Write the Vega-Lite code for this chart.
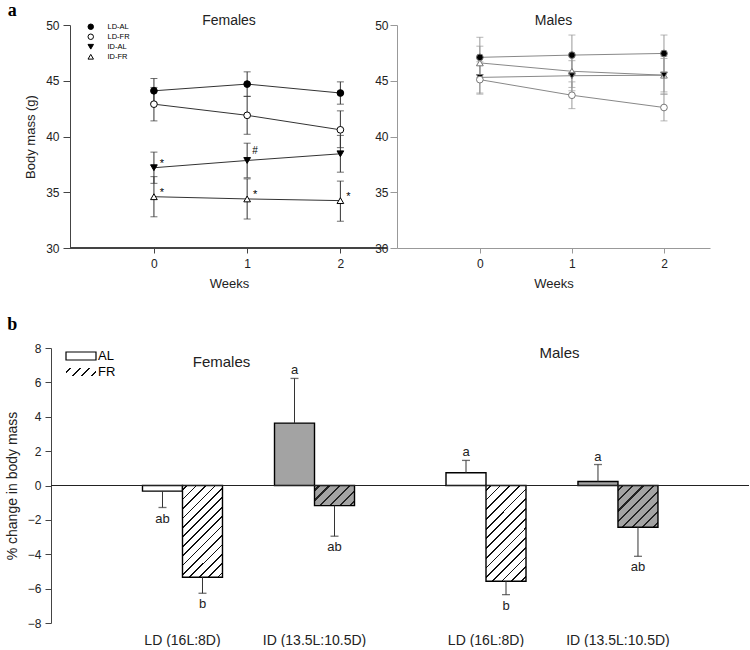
{
  "$schema": "https://vega.github.io/schema/vega-lite/v6.json",
  "padding": {"left": 5, "top": 2, "right": 0, "bottom": 0},
  "config": {
    "font": "Liberation Sans",
    "view": {"stroke": null},
    "axis": {"grid": false, "labelColor": "#222", "titleColor": "#222", "titleFontWeight": "normal", "labelOverlap": false},
    "axisY": {"labelOverlap": false},
    "title": {"fontWeight": "normal", "color": "#222"}
  },
  "datasets": {
    "mass": [
      {"sex": "F", "group": "LD-AL", "week": 0, "mean": 44.1, "lo": 43.0, "hi": 45.2, "note": ""},
      {"sex": "F", "group": "LD-AL", "week": 1, "mean": 44.7, "lo": 43.6, "hi": 45.8, "note": ""},
      {"sex": "F", "group": "LD-AL", "week": 2, "mean": 43.9, "lo": 42.9, "hi": 44.9, "note": ""},
      {"sex": "F", "group": "LD-FR", "week": 0, "mean": 42.9, "lo": 41.4, "hi": 44.4, "note": ""},
      {"sex": "F", "group": "LD-FR", "week": 1, "mean": 41.9, "lo": 40.2, "hi": 43.6, "note": ""},
      {"sex": "F", "group": "LD-FR", "week": 2, "mean": 40.6, "lo": 39.0, "hi": 42.3, "note": ""},
      {"sex": "F", "group": "ID-AL", "week": 0, "mean": 37.2, "lo": 35.8, "hi": 38.6, "note": "*"},
      {"sex": "F", "group": "ID-AL", "week": 1, "mean": 37.85, "lo": 36.3, "hi": 39.4, "note": "#"},
      {"sex": "F", "group": "ID-AL", "week": 2, "mean": 38.45, "lo": 36.8, "hi": 40.1, "note": ""},
      {"sex": "F", "group": "ID-FR", "week": 0, "mean": 34.6, "lo": 32.8, "hi": 36.4, "note": "*"},
      {"sex": "F", "group": "ID-FR", "week": 1, "mean": 34.4, "lo": 32.6, "hi": 36.2, "note": "*"},
      {"sex": "F", "group": "ID-FR", "week": 2, "mean": 34.25, "lo": 32.4, "hi": 36.0, "note": "*"},
      {"sex": "M", "group": "LD-AL", "week": 0, "mean": 47.1, "lo": 45.3, "hi": 48.9, "note": ""},
      {"sex": "M", "group": "LD-AL", "week": 1, "mean": 47.3, "lo": 45.5, "hi": 49.1, "note": ""},
      {"sex": "M", "group": "LD-AL", "week": 2, "mean": 47.45, "lo": 45.8, "hi": 49.1, "note": ""},
      {"sex": "M", "group": "ID-FR", "week": 0, "mean": 46.6, "lo": 45.1, "hi": 48.1, "note": ""},
      {"sex": "M", "group": "ID-FR", "week": 1, "mean": 45.85, "lo": 44.4, "hi": 47.3, "note": ""},
      {"sex": "M", "group": "ID-FR", "week": 2, "mean": 45.5, "lo": 44.0, "hi": 47.0, "note": ""},
      {"sex": "M", "group": "ID-AL", "week": 0, "mean": 45.3, "lo": 43.9, "hi": 46.7, "note": ""},
      {"sex": "M", "group": "ID-AL", "week": 1, "mean": 45.45, "lo": 44.1, "hi": 46.8, "note": ""},
      {"sex": "M", "group": "ID-AL", "week": 2, "mean": 45.5, "lo": 43.8, "hi": 47.2, "note": ""},
      {"sex": "M", "group": "LD-FR", "week": 0, "mean": 45.1, "lo": 43.8, "hi": 46.4, "note": ""},
      {"sex": "M", "group": "LD-FR", "week": 1, "mean": 43.7, "lo": 42.5, "hi": 44.9, "note": ""},
      {"sex": "M", "group": "LD-FR", "week": 2, "mean": 42.6, "lo": 41.4, "hi": 43.8, "note": ""}
    ],
    "bars": [
      {"sex": "F", "photo": "LD (16L:8D)", "diet": "AL", "value": -0.33, "err_end": -1.28, "label": "ab"},
      {"sex": "F", "photo": "LD (16L:8D)", "diet": "FR", "value": -5.34, "err_end": -6.27, "label": "b"},
      {"sex": "F", "photo": "ID (13.5L:10.5D)", "diet": "AL", "value": 3.63, "err_end": 6.23, "label": "a"},
      {"sex": "F", "photo": "ID (13.5L:10.5D)", "diet": "FR", "value": -1.17, "err_end": -2.95, "label": "ab"},
      {"sex": "M", "photo": "LD (16L:8D)", "diet": "AL", "value": 0.74, "err_end": 1.46, "label": "a"},
      {"sex": "M", "photo": "LD (16L:8D)", "diet": "FR", "value": -5.57, "err_end": -6.35, "label": "b"},
      {"sex": "M", "photo": "ID (13.5L:10.5D)", "diet": "AL", "value": 0.23, "err_end": 1.22, "label": "a"},
      {"sex": "M", "photo": "ID (13.5L:10.5D)", "diet": "FR", "value": -2.43, "err_end": -4.12, "label": "ab"}
    ]
  },
  "columns": 1,
  "spacing": 26,
  "resolve": {"scale": {"shape": "independent", "fill": "independent", "stroke": "independent"}, "legend": {"shape": "independent", "fill": "independent", "stroke": "independent"}},
  "concat": [
    {
      "title": {"text": "a", "anchor": "start", "font": "Liberation Serif", "fontWeight": "bold", "fontSize": 18, "color": "black", "dx": -17, "offset": -6},
      "bounds": "flush",
      "spacing": 10,
      "resolve": {"scale": {"shape": "independent", "fill": "independent", "stroke": "independent"}, "legend": {"shape": "independent", "fill": "independent", "stroke": "independent"}},
      "hconcat": [
        {
          "width": 336,
          "height": 223,
          "title": {"text": "Females", "fontSize": 14, "offset": -9, "dx": 10},
          "data": {"name": "mass"},
          "transform": [{"filter": "datum.sex === 'F'"}],
          "encoding": {
            "x": {"field": "week", "type": "quantitative", "scale": {"domain": [-1.104, 2.5], "nice": false, "zero": false},
                  "axis": {"title": "Weeks", "values": [0, 1, 2], "format": "d", "domain": false, "tickSize": 5, "labelPadding": 5, "titlePadding": 8, "labelFontSize": 12, "titleFontSize": 13, "tickColor": "#444", "titleX": 178}}
          },
          "layer": [
            {
              "mark": {"type": "rule", "color": "#444", "strokeWidth": 1},
              "encoding": {"x": {"datum": -0.9, "type": "quantitative"}, "x2": {"datum": 2.5}, "y": {"datum": 30, "type": "quantitative"}}
            },
            {
              "mark": {"type": "errorbar", "ticks": {"size": 7}, "color": "#333", "thickness": 1},
              "encoding": {
                "y": {"field": "lo", "type": "quantitative", "scale": {"domain": [30, 50], "nice": false, "zero": false},
                      "axis": {"title": "Body mass (g)", "offset": -19, "values": [30, 35, 40, 45, 50], "tickSize": 7, "labelPadding": 4, "titlePadding": 8, "labelFontSize": 12, "titleFontSize": 13, "domainColor": "#444", "tickColor": "#444"}},
                "y2": {"field": "hi"},
                "detail": {"field": "group"}
              }
            },
            {
              "mark": {"type": "line", "color": "#333", "strokeWidth": 1},
              "encoding": {"y": {"field": "mean", "type": "quantitative"}, "detail": {"field": "group"}}
            },
            {
              "mark": {"type": "point", "filled": true, "size": 45, "strokeWidth": 1, "opacity": 1},
              "encoding": {
                "y": {"field": "mean", "type": "quantitative"},
                "shape": {"field": "group", "type": "nominal", "scale": {"domain": ["LD-AL", "LD-FR", "ID-AL", "ID-FR"], "range": ["circle", "circle", "triangle-down", "triangle-up"]},
                          "legend": {"title": null, "orient": "none", "legendX": 36, "legendY": -2, "labelFontSize": 7.5, "symbolSize": 30, "rowPadding": 0, "labelOffset": 13, "symbolStrokeWidth": 1, "padding": 0}},
                "fill": {"field": "group", "type": "nominal", "scale": {"domain": ["LD-AL", "LD-FR", "ID-AL", "ID-FR"], "range": ["black", "white", "black", "white"]},
                          "legend": {"title": null, "orient": "none", "legendX": 36, "legendY": -2, "labelFontSize": 7.5, "symbolSize": 30, "rowPadding": 0, "labelOffset": 13, "symbolStrokeWidth": 1, "padding": 0}},
                "stroke": {"field": "group", "type": "nominal", "scale": {"domain": ["LD-AL", "LD-FR", "ID-AL", "ID-FR"], "range": ["black", "black", "black", "black"]},
                          "legend": {"title": null, "orient": "none", "legendX": 36, "legendY": -2, "labelFontSize": 7.5, "symbolSize": 30, "rowPadding": 0, "labelOffset": 13, "symbolStrokeWidth": 1, "padding": 0}}
              }
            },
            {
              "transform": [{"filter": "datum.note === '*'"}],
              "mark": {"type": "text", "dx": 8, "dy": -4, "fontSize": 11, "color": "black"},
              "encoding": {"y": {"field": "mean", "type": "quantitative"}, "text": {"field": "note"}}
            },
            {
              "transform": [{"filter": "datum.note === '#'"}],
              "mark": {"type": "text", "dx": 8, "dy": -9, "fontSize": 10, "color": "black"},
              "encoding": {"y": {"field": "mean", "type": "quantitative"}, "text": {"field": "note"}}
            }
          ]
        },
        {
          "width": 313,
          "height": 223,
          "title": {"text": "Males", "fontSize": 14, "offset": -9},
          "data": {"name": "mass"},
          "transform": [{"filter": "datum.sex === 'M'"}],
          "encoding": {
            "x": {"field": "week", "type": "quantitative", "scale": {"domain": [-0.9, 2.5], "nice": false, "zero": false},
                  "axis": {"title": "Weeks", "values": [0, 1, 2], "format": "d", "tickSize": 5, "labelPadding": 5, "titlePadding": 8, "labelFontSize": 12, "titleFontSize": 13, "domainColor": "#999", "tickColor": "#999"}}
          },
          "layer": [
            {
              "mark": {"type": "errorbar", "ticks": {"size": 7}, "color": "#999", "thickness": 1},
              "encoding": {
                "y": {"field": "lo", "type": "quantitative", "scale": {"domain": [30, 50], "nice": false, "zero": false},
                      "axis": {"title": null, "values": [30, 35, 40, 45, 50], "tickSize": 7, "labelPadding": 2, "labelFontSize": 12, "domainColor": "#999", "tickColor": "#999"}},
                "y2": {"field": "hi"},
                "detail": {"field": "group"}
              }
            },
            {
              "mark": {"type": "line", "color": "#888", "strokeWidth": 1},
              "encoding": {"y": {"field": "mean", "type": "quantitative"}, "detail": {"field": "group"}}
            },
            {
              "mark": {"type": "point", "filled": true, "size": 45, "stroke": "#777", "strokeWidth": 1, "opacity": 1},
              "encoding": {
                "y": {"field": "mean", "type": "quantitative"},
                "shape": {"field": "group", "type": "nominal", "scale": {"domain": ["LD-AL", "LD-FR", "ID-AL", "ID-FR"], "range": ["circle", "circle", "triangle-down", "triangle-up"]}, "legend": null},
                "fill": {"field": "group", "type": "nominal", "scale": {"domain": ["LD-AL", "LD-FR", "ID-AL", "ID-FR"], "range": ["black", "white", "black", "white"]}, "legend": null}
              }
            }
          ]
        }
      ]
    },
    {
      "title": {"text": "b", "anchor": "start", "font": "Liberation Serif", "fontWeight": "bold", "fontSize": 18, "color": "black", "dx": 2, "offset": 8},
      "bounds": "flush",
      "spacing": 0,
      "resolve": {"scale": {"shape": "independent", "fill": "independent"}, "legend": {"shape": "independent", "fill": "independent"}},
      "hconcat": [
        {
          "width": 395,
          "height": 275,
          "title": {"text": "Females", "fontSize": 15, "offset": -28, "dx": -27},
          "data": {"name": "bars"},
          "transform": [{"filter": "datum.sex === 'F'"}],
          "resolve": {"legend": {"shape": "independent", "fill": "independent"}},
          "layer": [
            {
              "mark": {"type": "bar", "stroke": "black", "strokeWidth": 1.4},
              "encoding": {
                "x": {"field": "photo", "type": "nominal", "sort": ["LD (16L:8D)", "ID (13.5L:10.5D)"], "scale": {"paddingInner": 0.394, "paddingOuter": 0.693, "align": 0.5},
                      "axis": {"title": null, "domain": false, "ticks": false, "labelAngle": 0, "labelPadding": 10, "labelFontSize": 14}},
                "xOffset": {"field": "diet", "type": "nominal", "sort": ["AL", "FR"], "scale": {"paddingInner": 0, "paddingOuter": 0}},
                "y": {"field": "value", "type": "quantitative", "scale": {"domain": [-8, 8], "nice": false},
                      "axis": {"title": "% change in body mass", "values": [-8, -6, -4, -2, 0, 2, 4, 6, 8], "tickCount": 9, "labelOverlap": false, "tickSize": 6, "labelPadding": 4, "titlePadding": 8, "labelFontSize": 12, "titleFontSize": 14, "domainColor": "#444", "tickColor": "#444"}},
                "fill": {
                  "condition": [
                    {"test": "datum.diet === 'FR' && datum.photo === 'LD (16L:8D)'", "value": {"gradient": "linear", "x1": 0, "y1": 0, "x2": 0.526, "y2": 1.207, "stops": [
                      {"offset": 0, "color": "white"}, {"offset": 0.0292, "color": "white"}, {"offset": 0.0292, "color": "#111"}, {"offset": 0.0422, "color": "#111"}, {"offset": 0.0422, "color": "white"},
                      {"offset": 0.1006, "color": "white"}, {"offset": 0.1006, "color": "#111"}, {"offset": 0.1136, "color": "#111"}, {"offset": 0.1136, "color": "white"},
                      {"offset": 0.1721, "color": "white"}, {"offset": 0.1721, "color": "#111"}, {"offset": 0.1851, "color": "#111"}, {"offset": 0.1851, "color": "white"},
                      {"offset": 0.2435, "color": "white"}, {"offset": 0.2435, "color": "#111"}, {"offset": 0.2565, "color": "#111"}, {"offset": 0.2565, "color": "white"},
                      {"offset": 0.3149, "color": "white"}, {"offset": 0.3149, "color": "#111"}, {"offset": 0.3279, "color": "#111"}, {"offset": 0.3279, "color": "white"},
                      {"offset": 0.3864, "color": "white"}, {"offset": 0.3864, "color": "#111"}, {"offset": 0.3994, "color": "#111"}, {"offset": 0.3994, "color": "white"},
                      {"offset": 0.4578, "color": "white"}, {"offset": 0.4578, "color": "#111"}, {"offset": 0.4708, "color": "#111"}, {"offset": 0.4708, "color": "white"},
                      {"offset": 0.5292, "color": "white"}, {"offset": 0.5292, "color": "#111"}, {"offset": 0.5422, "color": "#111"}, {"offset": 0.5422, "color": "white"},
                      {"offset": 0.6006, "color": "white"}, {"offset": 0.6006, "color": "#111"}, {"offset": 0.6136, "color": "#111"}, {"offset": 0.6136, "color": "white"},
                      {"offset": 0.6721, "color": "white"}, {"offset": 0.6721, "color": "#111"}, {"offset": 0.6851, "color": "#111"}, {"offset": 0.6851, "color": "white"},
                      {"offset": 0.7435, "color": "white"}, {"offset": 0.7435, "color": "#111"}, {"offset": 0.7565, "color": "#111"}, {"offset": 0.7565, "color": "white"},
                      {"offset": 0.8149, "color": "white"}, {"offset": 0.8149, "color": "#111"}, {"offset": 0.8279, "color": "#111"}, {"offset": 0.8279, "color": "white"},
                      {"offset": 0.8864, "color": "white"}, {"offset": 0.8864, "color": "#111"}, {"offset": 0.8994, "color": "#111"}, {"offset": 0.8994, "color": "white"},
                      {"offset": 0.9578, "color": "white"}, {"offset": 0.9578, "color": "#111"}, {"offset": 0.9708, "color": "#111"}, {"offset": 0.9708, "color": "white"},
                      {"offset": 1, "color": "white"}]}},
                    {"test": "datum.diet === 'FR'", "value": {"gradient": "linear", "x1": 0, "y1": 0, "x2": 1.2, "y2": 0.603, "stops": [
                      {"offset": 0, "color": "#a3a3a3"}, {"offset": 0.0657, "color": "#a3a3a3"}, {"offset": 0.0657, "color": "#222"}, {"offset": 0.1009, "color": "#222"}, {"offset": 0.1009, "color": "#a3a3a3"},
                      {"offset": 0.2324, "color": "#a3a3a3"}, {"offset": 0.2324, "color": "#222"}, {"offset": 0.2676, "color": "#222"}, {"offset": 0.2676, "color": "#a3a3a3"},
                      {"offset": 0.3991, "color": "#a3a3a3"}, {"offset": 0.3991, "color": "#222"}, {"offset": 0.4343, "color": "#222"}, {"offset": 0.4343, "color": "#a3a3a3"},
                      {"offset": 0.5657, "color": "#a3a3a3"}, {"offset": 0.5657, "color": "#222"}, {"offset": 0.6009, "color": "#222"}, {"offset": 0.6009, "color": "#a3a3a3"},
                      {"offset": 0.7324, "color": "#a3a3a3"}, {"offset": 0.7324, "color": "#222"}, {"offset": 0.7676, "color": "#222"}, {"offset": 0.7676, "color": "#a3a3a3"},
                      {"offset": 0.8991, "color": "#a3a3a3"}, {"offset": 0.8991, "color": "#222"}, {"offset": 0.9343, "color": "#222"}, {"offset": 0.9343, "color": "#a3a3a3"},
                      {"offset": 1, "color": "#a3a3a3"}]}},
                    {"test": "datum.photo === 'ID (13.5L:10.5D)'", "value": "#a3a3a3"}
                  ],
                  "value": "white"
                }
              }
            },
            {
              "mark": {"type": "rule", "color": "#222", "strokeWidth": 1},
              "encoding": {"y": {"datum": 0, "type": "quantitative"}}
            },
            {
              "mark": {"type": "rule", "color": "#333", "strokeWidth": 1},
              "encoding": {
                "x": {"field": "photo", "type": "nominal", "sort": ["LD (16L:8D)", "ID (13.5L:10.5D)"]},
                "xOffset": {"field": "diet", "type": "nominal", "sort": ["AL", "FR"]},
                "y": {"field": "value", "type": "quantitative"},
                "y2": {"field": "err_end"}
              }
            },
            {
              "mark": {"type": "tick", "orient": "horizontal", "size": 8, "thickness": 1.3, "color": "#333"},
              "encoding": {
                "x": {"field": "photo", "type": "nominal", "sort": ["LD (16L:8D)", "ID (13.5L:10.5D)"]},
                "xOffset": {"field": "diet", "type": "nominal", "sort": ["AL", "FR"]},
                "y": {"field": "err_end", "type": "quantitative"}
              }
            },
            {
              "transform": [{"filter": "datum.value < 0"}],
              "mark": {"type": "text", "baseline": "top", "dy": 5, "fontSize": 13, "color": "#222"},
              "encoding": {
                "x": {"field": "photo", "type": "nominal", "sort": ["LD (16L:8D)", "ID (13.5L:10.5D)"]},
                "xOffset": {"field": "diet", "type": "nominal", "sort": ["AL", "FR"]},
                "y": {"field": "err_end", "type": "quantitative"},
                "text": {"field": "label"}
              }
            },
            {
              "transform": [{"filter": "datum.value > 0"}],
              "mark": {"type": "text", "baseline": "alphabetic", "dy": -4, "fontSize": 13, "color": "#222"},
              "encoding": {
                "x": {"field": "photo", "type": "nominal", "sort": ["LD (16L:8D)", "ID (13.5L:10.5D)"]},
                "xOffset": {"field": "diet", "type": "nominal", "sort": ["AL", "FR"]},
                "y": {"field": "err_end", "type": "quantitative"},
                "text": {"field": "label"}
              }
            },
            {
              "transform": [{"filter": "datum.diet === 'AL'"}],
              "mark": {"type": "point", "filled": true, "opacity": 0, "size": 0},
              "encoding": {
                "x": {"field": "photo", "type": "nominal", "sort": ["LD (16L:8D)", "ID (13.5L:10.5D)"]},
                "xOffset": {"field": "diet", "type": "nominal", "sort": ["AL", "FR"]},
                "y": {"field": "value", "type": "quantitative"},
                "fill": {"field": "diet", "type": "nominal", "scale": {"domain": ["AL"], "range": ["white"]},
                  "legend": {"title": null, "orient": "none", "legendX": 19, "legendY": -3, "symbolType": "M-1.5,-0.4H1.5V0.4H-1.5Z", "symbolSize": 400, "symbolStrokeColor": "black", "symbolStrokeWidth": 1.2, "symbolOpacity": 1, "labelFontSize": 13, "labelOffset": 6, "padding": 0}}
              }
            },
            {
              "transform": [{"filter": "datum.diet === 'FR'"}],
              "mark": {"type": "point", "filled": true, "opacity": 0, "size": 0,
                "fill": {"gradient": "linear", "x1": 0, "y1": 0, "x2": 1.183, "y2": 0.315, "stops": [
                      {"offset": 0, "color": "white"}, {"offset": 0.103, "color": "white"}, {"offset": 0.103, "color": "#111"}, {"offset": 0.147, "color": "#111"}, {"offset": 0.147, "color": "white"},
                      {"offset": 0.353, "color": "white"}, {"offset": 0.353, "color": "#111"}, {"offset": 0.397, "color": "#111"}, {"offset": 0.397, "color": "white"},
                      {"offset": 0.603, "color": "white"}, {"offset": 0.603, "color": "#111"}, {"offset": 0.647, "color": "#111"}, {"offset": 0.647, "color": "white"},
                      {"offset": 0.853, "color": "white"}, {"offset": 0.853, "color": "#111"}, {"offset": 0.897, "color": "#111"}, {"offset": 0.897, "color": "white"},
                      {"offset": 1, "color": "white"}]}},
              "encoding": {
                "x": {"field": "photo", "type": "nominal", "sort": ["LD (16L:8D)", "ID (13.5L:10.5D)"]},
                "xOffset": {"field": "diet", "type": "nominal", "sort": ["AL", "FR"]},
                "y": {"field": "value", "type": "quantitative"},
                "shape": {"field": "diet", "type": "nominal", "scale": {"domain": ["FR"], "range": ["M-1.5,-0.4H1.5V0.4H-1.5Z"]},
                  "legend": {"title": null, "orient": "none", "legendX": 19, "legendY": 13, "symbolSize": 400, "symbolStrokeColor": "black", "symbolStrokeWidth": 1.2, "symbolOpacity": 1, "labelFontSize": 13, "labelOffset": 6, "padding": 0}}
              }
            }
          ]
        },
        {
          "width": 303,
          "height": 275,
          "title": {"text": "Males", "fontSize": 15, "offset": -13, "dx": -38},
          "data": {"name": "bars"},
          "transform": [{"filter": "datum.sex === 'M'"}],
          "layer": [
            {
              "mark": {"type": "bar", "stroke": "black", "strokeWidth": 1.4},
              "encoding": {
                "x": {"field": "photo", "type": "nominal", "sort": ["LD (16L:8D)", "ID (13.5L:10.5D)"], "scale": {"paddingInner": 0.394, "paddingOuter": 0.345, "align": 0},
                      "axis": {"title": null, "domain": false, "ticks": false, "labelAngle": 0, "labelPadding": 10, "labelFontSize": 14}},
                "xOffset": {"field": "diet", "type": "nominal", "sort": ["AL", "FR"], "scale": {"paddingInner": 0, "paddingOuter": 0}},
                "y": {"field": "value", "type": "quantitative", "scale": {"domain": [-8, 8], "nice": false}, "axis": null},
                "fill": {
                  "condition": [
                    {"test": "datum.diet === 'FR' && datum.photo === 'LD (16L:8D)'", "value": {"gradient": "linear", "x1": 0, "y1": 0, "x2": 0.505, "y2": 1.207, "stops": [
                      {"offset": 0, "color": "white"}, {"offset": 0.0292, "color": "white"}, {"offset": 0.0292, "color": "#111"}, {"offset": 0.0422, "color": "#111"}, {"offset": 0.0422, "color": "white"},
                      {"offset": 0.1006, "color": "white"}, {"offset": 0.1006, "color": "#111"}, {"offset": 0.1136, "color": "#111"}, {"offset": 0.1136, "color": "white"},
                      {"offset": 0.1721, "color": "white"}, {"offset": 0.1721, "color": "#111"}, {"offset": 0.1851, "color": "#111"}, {"offset": 0.1851, "color": "white"},
                      {"offset": 0.2435, "color": "white"}, {"offset": 0.2435, "color": "#111"}, {"offset": 0.2565, "color": "#111"}, {"offset": 0.2565, "color": "white"},
                      {"offset": 0.3149, "color": "white"}, {"offset": 0.3149, "color": "#111"}, {"offset": 0.3279, "color": "#111"}, {"offset": 0.3279, "color": "white"},
                      {"offset": 0.3864, "color": "white"}, {"offset": 0.3864, "color": "#111"}, {"offset": 0.3994, "color": "#111"}, {"offset": 0.3994, "color": "white"},
                      {"offset": 0.4578, "color": "white"}, {"offset": 0.4578, "color": "#111"}, {"offset": 0.4708, "color": "#111"}, {"offset": 0.4708, "color": "white"},
                      {"offset": 0.5292, "color": "white"}, {"offset": 0.5292, "color": "#111"}, {"offset": 0.5422, "color": "#111"}, {"offset": 0.5422, "color": "white"},
                      {"offset": 0.6006, "color": "white"}, {"offset": 0.6006, "color": "#111"}, {"offset": 0.6136, "color": "#111"}, {"offset": 0.6136, "color": "white"},
                      {"offset": 0.6721, "color": "white"}, {"offset": 0.6721, "color": "#111"}, {"offset": 0.6851, "color": "#111"}, {"offset": 0.6851, "color": "white"},
                      {"offset": 0.7435, "color": "white"}, {"offset": 0.7435, "color": "#111"}, {"offset": 0.7565, "color": "#111"}, {"offset": 0.7565, "color": "white"},
                      {"offset": 0.8149, "color": "white"}, {"offset": 0.8149, "color": "#111"}, {"offset": 0.8279, "color": "#111"}, {"offset": 0.8279, "color": "white"},
                      {"offset": 0.8864, "color": "white"}, {"offset": 0.8864, "color": "#111"}, {"offset": 0.8994, "color": "#111"}, {"offset": 0.8994, "color": "white"},
                      {"offset": 0.9578, "color": "white"}, {"offset": 0.9578, "color": "#111"}, {"offset": 0.9708, "color": "#111"}, {"offset": 0.9708, "color": "white"},
                      {"offset": 1, "color": "white"}]}},
                    {"test": "datum.diet === 'FR'", "value": {"gradient": "linear", "x1": 0, "y1": 0, "x2": 0.979, "y2": 1.02, "stops": [
                      {"offset": 0, "color": "#a3a3a3"}, {"offset": 0.0495, "color": "#a3a3a3"}, {"offset": 0.0495, "color": "#222"}, {"offset": 0.0755, "color": "#222"}, {"offset": 0.0755, "color": "#a3a3a3"},
                      {"offset": 0.1745, "color": "#a3a3a3"}, {"offset": 0.1745, "color": "#222"}, {"offset": 0.2005, "color": "#222"}, {"offset": 0.2005, "color": "#a3a3a3"},
                      {"offset": 0.2995, "color": "#a3a3a3"}, {"offset": 0.2995, "color": "#222"}, {"offset": 0.3255, "color": "#222"}, {"offset": 0.3255, "color": "#a3a3a3"},
                      {"offset": 0.4245, "color": "#a3a3a3"}, {"offset": 0.4245, "color": "#222"}, {"offset": 0.4505, "color": "#222"}, {"offset": 0.4505, "color": "#a3a3a3"},
                      {"offset": 0.5495, "color": "#a3a3a3"}, {"offset": 0.5495, "color": "#222"}, {"offset": 0.5755, "color": "#222"}, {"offset": 0.5755, "color": "#a3a3a3"},
                      {"offset": 0.6745, "color": "#a3a3a3"}, {"offset": 0.6745, "color": "#222"}, {"offset": 0.7005, "color": "#222"}, {"offset": 0.7005, "color": "#a3a3a3"},
                      {"offset": 0.7995, "color": "#a3a3a3"}, {"offset": 0.7995, "color": "#222"}, {"offset": 0.8255, "color": "#222"}, {"offset": 0.8255, "color": "#a3a3a3"},
                      {"offset": 0.9245, "color": "#a3a3a3"}, {"offset": 0.9245, "color": "#222"}, {"offset": 0.9505, "color": "#222"}, {"offset": 0.9505, "color": "#a3a3a3"},
                      {"offset": 1, "color": "#a3a3a3"}]}},
                    {"test": "datum.photo === 'ID (13.5L:10.5D)'", "value": "#a3a3a3"}
                  ],
                  "value": "white"
                }
              }
            },
            {
              "mark": {"type": "rule", "color": "#222", "strokeWidth": 1},
              "encoding": {"y": {"datum": 0, "type": "quantitative"}}
            },
            {
              "mark": {"type": "rule", "color": "#333", "strokeWidth": 1},
              "encoding": {
                "x": {"field": "photo", "type": "nominal", "sort": ["LD (16L:8D)", "ID (13.5L:10.5D)"]},
                "xOffset": {"field": "diet", "type": "nominal", "sort": ["AL", "FR"]},
                "y": {"field": "value", "type": "quantitative"},
                "y2": {"field": "err_end"}
              }
            },
            {
              "mark": {"type": "tick", "orient": "horizontal", "size": 8, "thickness": 1.3, "color": "#333"},
              "encoding": {
                "x": {"field": "photo", "type": "nominal", "sort": ["LD (16L:8D)", "ID (13.5L:10.5D)"]},
                "xOffset": {"field": "diet", "type": "nominal", "sort": ["AL", "FR"]},
                "y": {"field": "err_end", "type": "quantitative"}
              }
            },
            {
              "transform": [{"filter": "datum.value < 0"}],
              "mark": {"type": "text", "baseline": "top", "dy": 5, "fontSize": 13, "color": "#222"},
              "encoding": {
                "x": {"field": "photo", "type": "nominal", "sort": ["LD (16L:8D)", "ID (13.5L:10.5D)"]},
                "xOffset": {"field": "diet", "type": "nominal", "sort": ["AL", "FR"]},
                "y": {"field": "err_end", "type": "quantitative"},
                "text": {"field": "label"}
              }
            },
            {
              "transform": [{"filter": "datum.value > 0"}],
              "mark": {"type": "text", "baseline": "alphabetic", "dy": -4, "fontSize": 13, "color": "#222"},
              "encoding": {
                "x": {"field": "photo", "type": "nominal", "sort": ["LD (16L:8D)", "ID (13.5L:10.5D)"]},
                "xOffset": {"field": "diet", "type": "nominal", "sort": ["AL", "FR"]},
                "y": {"field": "err_end", "type": "quantitative"},
                "text": {"field": "label"}
              }
            }
          ]
        }
      ]
    }
  ]
}
